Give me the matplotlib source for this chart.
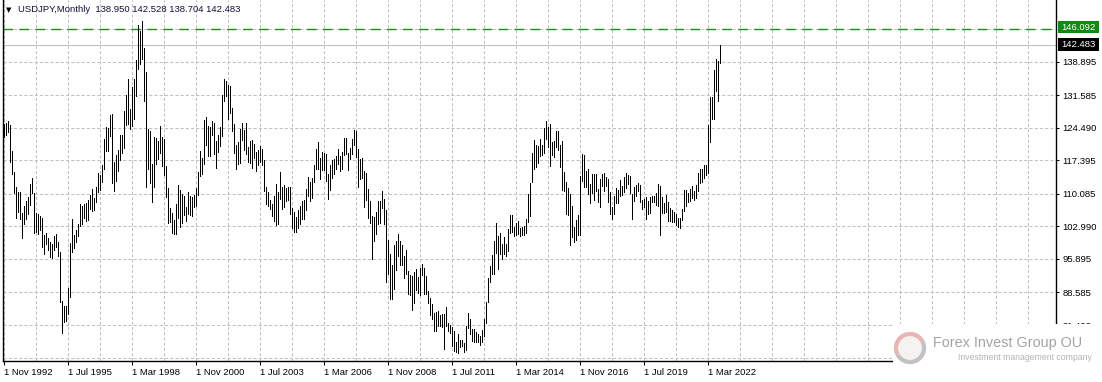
import matplotlib
matplotlib.use('Agg')
import matplotlib.pyplot as plt
from matplotlib.patches import Rectangle, Wedge, Circle
from matplotlib import font_manager
import pandas as pd

# USDJPY monthly bars, first bar = Nov 1992
start_month = '1992-11'
highs = [
    125.3, 125.6,
    126.0, 125.0, 119.5, 114.8, 111.5, 110.5, 110.4, 106.0, 107.5, 108.5, 109.5, 112.2,
    113.6, 110.2, 106.0, 105.8, 105.3, 104.8, 101.1, 101.5, 100.5, 99.5, 99.2, 100.9,
    101.4, 99.6, 97.4, 86.7, 85.6, 85.6, 89.5, 99.3, 104.7, 101.1, 102.3, 103.5,
    107.9, 107.5, 107.8, 108.0, 108.8, 109.8, 111.2, 109.2, 111.5, 114.6, 114.3, 116.3,
    122.0, 124.6, 124.4, 127.2, 127.5, 117.0, 118.5, 119.6, 122.9, 123.0, 128.1, 131.6,
    135.2, 128.5, 133.3, 135.2, 139.3, 146.8, 145.5, 147.7, 141.8, 136.7, 124.3, 123.8,
    116.6, 122.4, 122.2, 121.6, 124.8, 122.5, 122.0, 116.1, 111.4, 107.0, 105.9, 104.3,
    107.9, 112.1, 111.0, 110.0, 109.6, 107.2, 110.4, 109.6, 109.3, 109.9, 111.3, 114.9,
    119.5, 117.8, 126.2, 126.8, 124.9, 124.7, 126.0, 125.5, 121.6, 123.0, 124.6, 131.6,
    135.2, 134.7, 133.9, 133.6, 128.9, 125.4, 120.8, 121.4, 124.2, 125.6, 124.1, 125.6,
    120.4, 121.5, 121.8, 121.0, 119.1, 119.6, 120.6, 119.9, 117.5, 111.6, 110.5, 108.8,
    107.9, 109.7, 112.2, 110.5, 114.9, 111.5, 112.1, 111.3, 111.6, 111.6, 106.9, 106.1,
    105.1, 106.5, 107.5, 108.5, 108.7, 111.2, 113.7, 112.6, 113.5, 116.4, 119.8, 121.4,
    117.9, 119.3, 119.0, 118.7, 114.4, 116.4, 117.4, 117.6, 118.3, 119.8, 118.3, 119.2,
    122.2, 122.2, 119.0, 120.0, 122.0, 124.1, 123.7, 119.8, 117.6, 117.9, 115.0, 114.6,
    111.2, 108.6, 105.3, 105.0, 106.1, 108.6, 108.6, 110.7, 109.0, 106.6, 100.0, 96.9,
    94.5, 98.9, 99.7, 101.4, 99.7, 98.9, 96.5, 97.8, 93.3, 92.3, 92.2, 93.1,
    93.8, 91.9, 93.9, 94.9, 94.0, 92.2, 88.8, 87.4, 86.0, 84.1, 84.4, 84.5,
    83.7, 84.0, 83.9, 85.5, 82.0, 81.5, 81.0, 80.2, 77.9, 79.5, 78.3, 78.3,
    77.6, 81.2, 84.2, 82.9, 80.6, 80.6, 79.9, 79.6, 79.2, 80.4, 82.8, 86.6,
    91.7, 94.4, 96.7, 99.9, 103.7, 101.0, 101.5, 99.1, 100.6, 99.2, 102.5, 105.4,
    105.4, 102.8, 103.8, 104.1, 102.7, 102.8, 103.1, 104.5, 110.1, 112.5, 118.9, 121.9,
    120.8, 120.5, 122.0, 120.8, 124.5, 125.9, 124.6, 125.3, 121.3, 121.5, 123.8, 123.7,
    120.7, 121.7, 114.9, 112.7, 111.4, 110.0, 107.5, 102.8, 104.3, 105.5, 114.0, 118.7,
    118.6, 115.0, 115.5, 112.2, 114.4, 114.5, 114.5, 111.1, 113.3, 114.5, 114.7, 113.8,
    113.4, 110.5, 107.3, 109.6, 111.4, 111.0, 113.2, 111.8, 113.7, 114.6, 114.2, 114.0,
    110.0, 111.5, 112.1, 112.4, 112.0, 108.8, 109.0, 109.3, 108.5, 109.3, 109.7, 109.7,
    110.3, 112.2, 111.7, 109.4, 108.1, 109.9, 108.2, 107.1, 106.6, 106.1, 105.7, 104.8,
    104.9, 106.7, 111.0, 110.9, 110.2, 111.1, 111.7, 110.8, 112.1, 114.7, 115.5, 115.5,
    116.4, 116.3, 125.1, 131.3, 131.3, 137.0, 139.4, 139.1, 142.528,
]
lows = [
    122.5, 122.9,
    123.6, 117.0, 114.5, 110.3, 104.8, 106.2, 104.5, 100.4, 103.5, 104.5, 105.6, 107.6,
    110.3, 101.6, 101.7, 101.3, 102.2, 98.5, 97.0, 99.2, 97.8, 96.4, 96.2, 97.8,
    98.4, 96.5, 86.5, 79.8, 82.1, 82.3, 84.0, 87.6, 97.5, 98.3, 99.5, 100.9,
    103.0, 103.5, 104.8, 104.1, 104.4, 106.8, 106.4, 106.6, 108.3, 110.5, 110.9, 112.6,
    115.6, 119.4, 119.5, 122.6, 112.5, 110.6, 112.8, 115.0, 117.5, 119.0, 120.1, 125.2,
    125.3, 124.2, 124.9, 126.5, 131.4, 137.3, 138.3, 139.4, 130.3, 111.6, 115.5, 112.5,
    108.3, 111.6, 116.5, 117.6, 119.0, 116.1, 114.1, 109.3, 103.7, 104.0, 101.5, 101.3,
    101.4, 104.8, 102.8, 103.8, 105.5, 104.1, 105.8, 105.4, 105.3, 107.2, 107.5, 109.9,
    114.0, 114.5, 116.7, 120.8, 118.4, 118.4, 122.9, 118.8, 115.8, 119.3, 120.5, 122.6,
    130.4, 131.5, 126.4, 127.8, 123.8, 119.0, 115.6, 116.7, 116.8, 121.8, 119.7, 118.8,
    117.0, 116.8, 115.8, 118.0, 115.0, 116.4, 117.1, 116.3, 110.6, 107.9, 107.5, 106.7,
    105.3, 104.2, 103.4, 103.5, 108.9, 106.8, 107.3, 108.5, 108.7, 105.6, 102.6, 101.8,
    101.7, 102.6, 103.6, 104.5, 104.5, 106.5, 109.6, 108.5, 109.1, 112.6, 115.6, 115.5,
    113.4, 115.3, 115.2, 112.9, 108.9, 110.9, 113.5, 114.4, 115.5, 116.5, 115.0, 115.6,
    118.5, 118.8, 115.2, 117.6, 118.8, 120.8, 118.2, 111.6, 113.4, 113.6, 107.2, 108.7,
    104.9, 103.7, 95.8, 99.8, 101.4, 103.6, 103.8, 107.0, 103.5, 90.9, 92.6, 87.1,
    87.1, 89.3, 93.5, 96.5, 94.5, 94.5, 91.7, 92.6, 88.2, 88.0, 84.8, 86.3,
    89.2, 88.5, 88.1, 92.4, 88.2, 88.2, 86.3, 83.6, 82.9, 80.2, 80.2, 81.2,
    81.3, 81.1, 76.3, 81.3, 80.1, 79.7, 76.9, 75.9, 75.6, 75.3, 76.6, 76.9,
    75.6, 76.1, 80.9, 79.6, 78.0, 77.7, 77.9, 77.9, 77.1, 77.8, 79.1, 82.0,
    86.6, 90.8, 92.6, 92.6, 97.3, 93.8, 97.0, 95.8, 96.9, 96.6, 97.6, 101.6,
    101.8, 100.8, 101.2, 101.4, 100.8, 101.1, 101.1, 101.5, 103.9, 105.2, 112.6, 115.6,
    115.9, 116.9, 118.3, 118.5, 118.9, 122.0, 120.4, 116.2, 118.6, 118.1, 120.2, 119.7,
    115.9, 110.9, 110.7, 105.6, 105.5, 99.0, 100.7, 99.5, 100.1, 101.2, 101.2, 112.9,
    111.6, 111.6, 110.1, 108.1, 110.2, 108.8, 110.6, 108.3, 107.3, 111.7, 110.8, 111.9,
    108.3, 105.6, 104.6, 105.7, 108.1, 108.1, 109.6, 109.8, 110.4, 111.4, 112.3, 110.3,
    104.7, 108.5, 109.7, 110.8, 108.3, 106.8, 107.2, 104.5, 105.7, 105.9, 108.2, 108.4,
    107.6, 107.5, 101.2, 105.9, 105.9, 106.1, 104.2, 104.2, 104.0, 104.0, 103.2, 102.9,
    102.6, 104.4, 106.4, 107.5, 108.3, 108.6, 109.1, 108.7, 109.1, 110.8, 112.5, 112.6,
    113.5, 114.1, 114.7, 121.3, 126.4, 126.4, 132.5, 130.4, 138.704,
]

# last bar o/h/l/c shown in the header
last_ohlc = [138.950, 142.528, 138.704, 142.483]
last_close = 142.483
level_line = 146.092

price_ticks = [81.490, 88.585, 95.895, 102.990, 110.085, 117.395, 124.490, 131.585, 138.895]
extra_grid = [74.395, 145.990]
label_every = 32
grid_every = 16

W, H = 1102, 382
DPI = 100


def pick_font(names):
    for n in names:
        try:
            font_manager.findfont(n, fallback_to_default=False)
            return n
        except Exception:
            continue
    return 'DejaVu Sans'


axis_font = pick_font(['Liberation Sans', 'DejaVu Sans'])
narrow_font = pick_font(['Liberation Sans Narrow', 'Liberation Sans', 'DejaVu Sans'])


def fx(px):
    return px / W


def fy(py):
    return 1 - py / H


months = pd.period_range(start_month, periods=len(highs), freq='M')
idx = list(range(len(highs)))

fig = plt.figure(figsize=(W / DPI, H / DPI), dpi=DPI)
fig.patch.set_facecolor('white')

ax = fig.add_axes([fx(3), fy(361), fx(1056) - fx(3), fy(0) - fy(361)])
ax.set_facecolor('white')

ax.vlines(idx, lows, highs, colors='black', linewidth=0.68, antialiased=False, zorder=3)

# horizontal levels: drawn line and current price
ax.axhline(level_line, color='#1f8c1f', linewidth=1.0, linestyle=(0, (7, 4.5)), zorder=2)
ax.axhline(last_close, color='#c0c0c0', linewidth=0.75, zorder=2)

ax.set_xlim(-0.25, 526.25)
ax.set_ylim(73.65, 152.34)

# x axis labels every 32 bars, grid every 16
major_x = [i for i in idx if i % label_every == 0]
ax.set_xticks(major_x)
ax.set_xticklabels([f"1 {months[i].strftime('%b %Y')}" for i in major_x], ha='left')
ax.set_xticks(list(range(0, 527, grid_every)), minor=True)

ax.yaxis.tick_right()
ax.set_yticks(price_ticks)
ax.set_yticklabels([f'{v:.3f}' for v in price_ticks])
ax.set_yticks(extra_grid, minor=True)

ax.tick_params(axis='x', which='major', length=3, width=0.75, pad=2,
               labelsize=6.8, colors='black')
ax.tick_params(axis='y', which='major', length=2.5, width=0.75, pad=2,
               labelsize=6.8, colors='black')
ax.tick_params(which='minor', length=0)
for lab in ax.get_xticklabels() + ax.get_yticklabels():
    lab.set_fontfamily(axis_font)

ax.grid(True, which='both', color='#c0c0c0', linewidth=0.75, linestyle=(0, (3, 2)), zorder=0)
ax.set_axisbelow(True)

for side in ['left', 'right', 'bottom']:
    ax.spines[side].set_color('black')
    ax.spines[side].set_linewidth(1.0)
ax.spines['top'].set_visible(False)

# price boxes on the right scale
fig.patches.append(Rectangle((fx(1058), fy(33)), fx(41), fy(20.5) - fy(33),
                             transform=fig.transFigure, facecolor='#108a10',
                             edgecolor='none', zorder=5))
fig.text(fx(1061), fy(27), f'{level_line:.3f}', color='white', fontsize=6.8,
         family=axis_font, va='center', ha='left', zorder=6)
fig.patches.append(Rectangle((fx(1058), fy(50.5)), fx(41), fy(38.5) - fy(50.5),
                             transform=fig.transFigure, facecolor='black',
                             edgecolor='none', zorder=5))
fig.text(fx(1061), fy(44.5), f'{last_close:.3f}', color='white', fontsize=6.8,
         family=axis_font, va='center', ha='left', zorder=6)

# header
fig.text(fx(6), fy(10), '\u25bc', fontsize=5, color='black', va='center', ha='left')
header = 'USDJPY,Monthly  ' + ' '.join(f'{v:.3f}' for v in last_ohlc)
fig.text(fx(18.5), fy(10), header, fontsize=6.8, family=axis_font, color='#101038',
         va='center', ha='left')

# watermark
fig.patches.append(Rectangle((fx(893), fy(382)), fx(209), fy(324) - fy(382),
                             transform=fig.transFigure, facecolor='white',
                             edgecolor='none', zorder=10))
lax = fig.add_axes([fx(893), fy(365), fx(34), fy(331) - fy(365)], zorder=11)
lax.set_xlim(-1, 1)
lax.set_ylim(-1, 1)
lax.set_aspect('equal')
lax.axis('off')
lax.add_patch(Circle((0, 0), 0.95, facecolor='#f5f3f0', edgecolor='none'))
lax.add_patch(Wedge((0, 0), 0.95, 25, 205, width=0.25, facecolor='#e8b6b4', edgecolor='none'))
lax.add_patch(Wedge((0, 0), 0.95, 205, 385, width=0.25, facecolor='#c2c2c2', edgecolor='none'))

brand = fig.text(fx(933), fy(343), 'Forex Invest Group OU', fontsize=12.5, family=narrow_font,
                 color='#a3a3a3', va='center', ha='left', zorder=12)
tagline = fig.text(fx(1092), fy(357.5), 'Investment management company', fontsize=6.3,
                   family=axis_font, color='#b3b3b3', va='center', ha='right', zorder=12)

# shrink the watermark texts to the width they take in the reference
renderer = fig.canvas.get_renderer()
for t, target in [(brand, 149.0), (tagline, 140.0)]:
    w = t.get_window_extent(renderer).width
    if w > target:
        t.set_fontsize(t.get_fontsize() * target / w)

fig.savefig('out.png', dpi=DPI, facecolor='white')
